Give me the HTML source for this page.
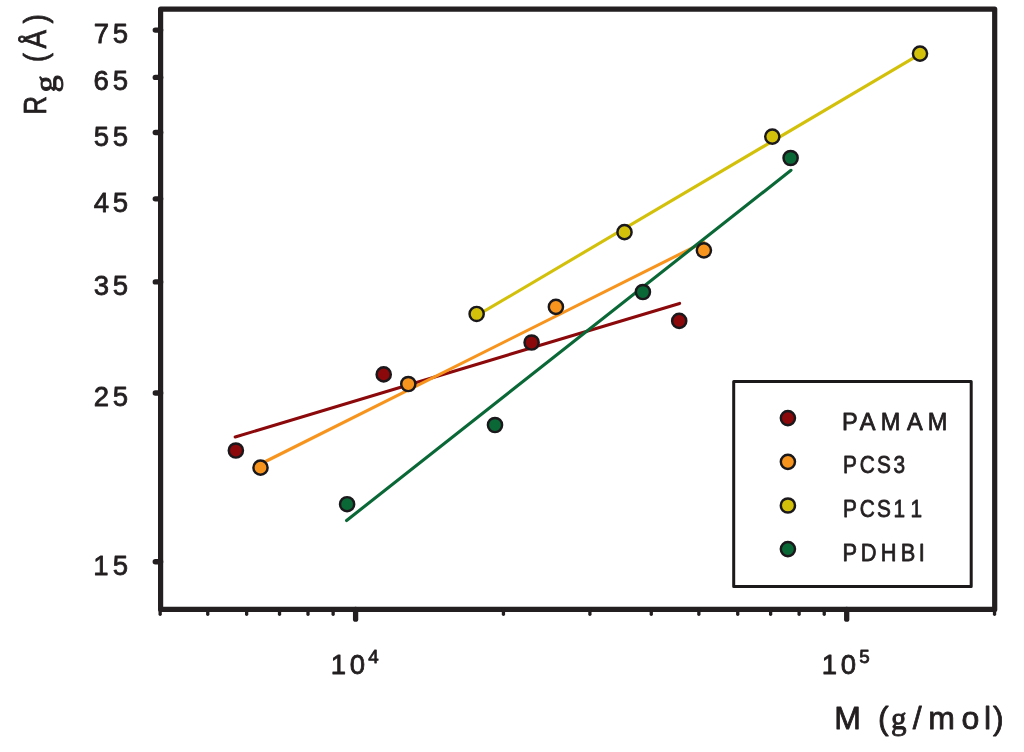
<!DOCTYPE html>
<html lang="en"><head><meta charset="utf-8"><title>Rg vs M</title>
<style>html,body{margin:0;padding:0;background:#fff;}body{width:1024px;height:752px;overflow:hidden;position:relative;}</style>
</head><body>
<svg width="1024" height="752" viewBox="0 0 1024 752" font-family="'Liberation Sans', Arial, Helvetica, sans-serif" fill="#231f20" style="display:block;position:absolute;left:0;top:0">
<rect width="1024" height="752" fill="#ffffff"/>
<g fill="none" stroke-width="3.1" stroke-linecap="round">
<line x1="235.2" y1="437.0" x2="679.6" y2="303.4" stroke="#8b080b"/>
<line x1="260.5" y1="464.0" x2="703.9" y2="242.1" stroke="#f7941e"/>
<line x1="476.64" y1="315.7" x2="920.0" y2="54.1" stroke="#d2c00a"/>
<line x1="346.6" y1="520.5" x2="791.0" y2="170.3" stroke="#0a6837"/>
</g>
<g stroke="#1b181c" stroke-width="2.45">
<circle cx="235.86" cy="450.5" r="7.1" fill="#8b080b"/>
<circle cx="383.7" cy="374.4" r="7.1" fill="#8b080b"/>
<circle cx="531.6" cy="342.5" r="7.1" fill="#8b080b"/>
<circle cx="679.2" cy="320.9" r="7.1" fill="#8b080b"/>
<circle cx="260.5" cy="467.66" r="7.1" fill="#f7941e"/>
<circle cx="408.3" cy="384.0" r="7.1" fill="#f7941e"/>
<circle cx="555.9" cy="306.9" r="7.1" fill="#f7941e"/>
<circle cx="703.9" cy="250.3" r="7.1" fill="#f7941e"/>
<circle cx="476.64" cy="313.98" r="7.1" fill="#d2c00a"/>
<circle cx="624.5" cy="232.2" r="7.1" fill="#d2c00a"/>
<circle cx="772.3" cy="136.6" r="7.1" fill="#d2c00a"/>
<circle cx="920.0" cy="53.6" r="7.1" fill="#d2c00a"/>
<circle cx="347.1" cy="504.2" r="7.1" fill="#0a6837"/>
<circle cx="495" cy="425" r="7.1" fill="#0a6837"/>
<circle cx="642.9" cy="292.0" r="7.1" fill="#0a6837"/>
<circle cx="790.6" cy="158.0" r="7.1" fill="#0a6837"/>
</g>
<rect x="160.6" y="9.1" width="834.1" height="600.3" fill="none" stroke="#231f20" stroke-width="5.2" stroke-linejoin="round"/>
<g stroke="#231f20" stroke-width="5.4" stroke-linecap="round">
<line x1="155.3" y1="561.80" x2="160.6" y2="561.80"/>
<line x1="155.3" y1="393.04" x2="160.6" y2="393.04"/>
<line x1="155.3" y1="281.88" x2="160.6" y2="281.88"/>
<line x1="155.3" y1="198.86" x2="160.6" y2="198.86"/>
<line x1="155.3" y1="132.56" x2="160.6" y2="132.56"/>
<line x1="155.3" y1="77.38" x2="160.6" y2="77.38"/>
<line x1="155.3" y1="30.10" x2="160.6" y2="30.10"/>
</g>
<g stroke="#231f20" stroke-width="3.3" stroke-linecap="round">
<line x1="160.17" y1="609.4" x2="160.17" y2="614.25"/>
<line x1="207.76" y1="609.4" x2="207.76" y2="614.25"/>
<line x1="246.65" y1="609.4" x2="246.65" y2="614.25"/>
<line x1="279.53" y1="609.4" x2="279.53" y2="614.25"/>
<line x1="308.01" y1="609.4" x2="308.01" y2="614.25"/>
<line x1="333.13" y1="609.4" x2="333.13" y2="614.25"/>
<line x1="503.44" y1="609.4" x2="503.44" y2="614.25"/>
<line x1="589.91" y1="609.4" x2="589.91" y2="614.25"/>
<line x1="651.27" y1="609.4" x2="651.27" y2="614.25"/>
<line x1="698.86" y1="609.4" x2="698.86" y2="614.25"/>
<line x1="737.75" y1="609.4" x2="737.75" y2="614.25"/>
<line x1="770.63" y1="609.4" x2="770.63" y2="614.25"/>
<line x1="799.11" y1="609.4" x2="799.11" y2="614.25"/>
<line x1="824.23" y1="609.4" x2="824.23" y2="614.25"/>
<line x1="994.54" y1="609.4" x2="994.54" y2="614.25"/>
</g>
<g stroke="#231f20" stroke-width="5.3" stroke-linecap="round">
<line x1="355.60" y1="609.4" x2="355.60" y2="619.2"/>
<line x1="846.70" y1="609.4" x2="846.70" y2="619.2"/>
</g>
<text x="93.33 112.83" y="574.80" font-size="27.5" stroke="#231f20" stroke-width="0.8" stroke-linejoin="round">15</text>
<text x="93.70 112.83" y="406.04" font-size="27.5" stroke="#231f20" stroke-width="0.8" stroke-linejoin="round">25</text>
<text x="93.78 112.83" y="294.88" font-size="27.5" stroke="#231f20" stroke-width="0.8" stroke-linejoin="round">35</text>
<text x="93.79 112.83" y="211.86" font-size="27.5" stroke="#231f20" stroke-width="0.8" stroke-linejoin="round">45</text>
<text x="93.73 112.83" y="145.56" font-size="27.5" stroke="#231f20" stroke-width="0.8" stroke-linejoin="round">55</text>
<text x="93.61 112.83" y="90.38" font-size="27.5" stroke="#231f20" stroke-width="0.8" stroke-linejoin="round">65</text>
<text x="93.69 112.83" y="43.10" font-size="27.5" stroke="#231f20" stroke-width="0.8" stroke-linejoin="round">75</text>
<text font-size="27.5" stroke="#231f20" stroke-width="0.8" stroke-linejoin="round"><tspan x="330.73 349.75" y="674">10</tspan><tspan x="368.23" y="662.7" font-size="18.8">4</tspan></text>
<text font-size="27.5" stroke="#231f20" stroke-width="0.8" stroke-linejoin="round"><tspan x="821.83 840.85" y="674">10</tspan><tspan x="859.34" y="662.7" font-size="18.8">5</tspan></text>
<text y="728.6" font-size="32" stroke="#231f20" stroke-width="0.8" stroke-linejoin="round"><tspan x="834.22 860.88 878.07">M (</tspan><tspan x="890.93" font-family="'Liberation Serif', 'Times New Roman', serif" font-size="31.0" stroke-width="0.9">g</tspan><tspan x="912.75 928.26 961.45 984.09 993.02">/mol)</tspan></text>
<text transform="rotate(-90) scale(0.8,1)" x="-143.12" y="46.50" font-size="32" stroke="#231f20" stroke-width="0.8" stroke-linejoin="round">R</text>
<text transform="rotate(-90) scale(1.1,1)" x="-84.16" y="56.35" font-size="31.3" font-family="'Liberation Serif', 'Times New Roman', serif" stroke="#231f20" stroke-width="0.9" stroke-linejoin="round">g</text>
<text transform="rotate(-90) scale(0.87,1)" x="-71.57 -55.73 -26.96" y="46.30" font-size="32" stroke="#231f20" stroke-width="0.8" stroke-linejoin="round">(Å)</text>
<rect x="733.7" y="381.5" width="237.5" height="204.9" fill="#ffffff" stroke="#1c191a" stroke-width="3.0" stroke-linejoin="round"/>
<g stroke="#1b181c" stroke-width="2.45">
<circle cx="787.9" cy="418.1" r="7.1" fill="#8b080b"/>
<circle cx="787.9" cy="461.8" r="7.1" fill="#f7941e"/>
<circle cx="787.9" cy="505.5" r="7.1" fill="#d2c00a"/>
<circle cx="787.9" cy="549.1" r="7.1" fill="#0a6837"/>
</g>
<text transform="scale(0.95,1)" x="886.29 904.89 927.04 954.62 976.51" y="430.00" font-size="24.8" stroke="#231f20" stroke-width="0.8" stroke-linejoin="round">PAMAM</text>
<text transform="scale(0.84,1)" x="1003.48 1023.63 1043.97 1063.71" y="473.50" font-size="24.8" stroke="#231f20" stroke-width="0.8" stroke-linejoin="round">PCS3</text>
<text transform="scale(0.84,1)" x="1003.48 1023.63 1043.97 1063.84 1083.93" y="516.80" font-size="24.8" stroke="#231f20" stroke-width="0.8" stroke-linejoin="round">PCS11</text>
<text transform="scale(0.88,1)" x="957.47 978.06 1000.84 1023.61 1044.11" y="560.60" font-size="24.8" stroke="#231f20" stroke-width="0.8" stroke-linejoin="round">PDHBI</text>
</svg>
</body></html>
